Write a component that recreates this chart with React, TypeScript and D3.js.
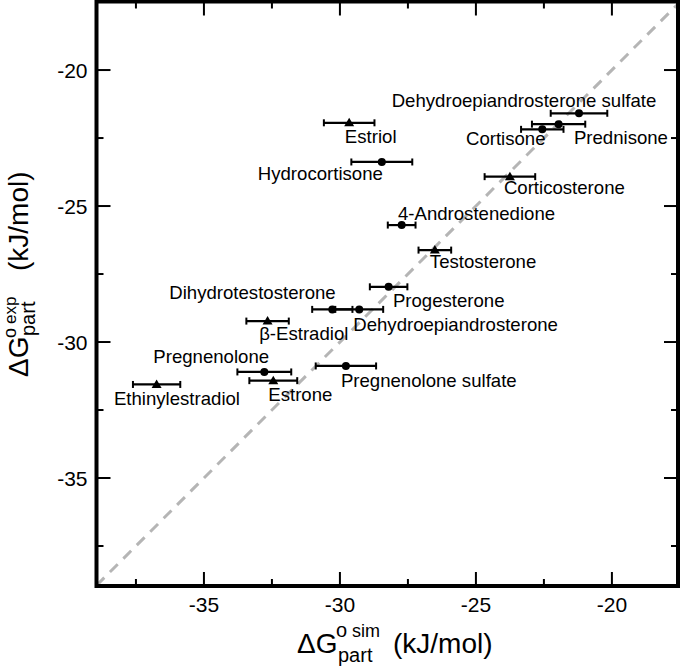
import React from 'react';
import * as d3 from 'd3';

// ---- data (kJ/mol) ----
const compounds = [
  'Dehydroepiandrosterone sulfate',
  'Prednisone',
  'Cortisone',
  'Estriol',
  'Hydrocortisone',
  'Corticosterone',
  '4-Androstenedione',
  'Testosterone',
  'Progesterone',
  'Dihydrotestosterone',
  'Dehydroepiandrosterone',
  'β-Estradiol',
  'Pregnenolone',
  'Pregnenolone sulfate',
  'Estrone',
  'Ethinylestradiol',
];
const simValues = [-21.21, -21.96, -22.56, -29.66, -28.46, -23.75, -27.73, -26.51, -28.21, -30.28, -29.29, -32.66, -32.78, -29.78, -32.45, -36.74];
const expValues = [-21.59, -21.99, -22.18, -21.94, -23.38, -23.92, -25.70, -26.62, -27.97, -28.80, -28.80, -29.23, -31.10, -30.88, -31.42, -31.56];
const simErrors = [1.04, 0.98, 0.78, 0.93, 1.12, 0.93, 0.51, 0.60, 0.69, 0.74, 0.88, 0.78, 0.99, 1.11, 0.88, 0.87];
const markerTypes = ['circle', 'circle', 'circle', 'triangle', 'circle', 'triangle', 'circle', 'triangle', 'circle', 'circle', 'circle', 'triangle', 'circle', 'circle', 'triangle', 'triangle'];

const majorTicks = [-35, -30, -25, -20];
const minorTicks = [-37.5, -32.5, -27.5, -22.5];
const tickLabels = ['-35', '-30', '-25', '-20'];

// label placement relative to the marker (px)
const labelOffsets: [number, number][] = [
  [-187.3, -6], [15.3, 20.3], [-76.3, 15.7], [-4.3, 20.6], [-124, 18], [-6, 17.3],
  [-3.7, -5], [-5, 18.3], [4.3, 20], [-163, -10], [-6, 21.4], [-8.4, 19],
  [-111, -8.7], [-5, 20.7], [-5, 20.3], [-42.7, 20.7],
];

const W = 682;
const H = 666;
const FONT = '"Liberation Sans", Arial, Helvetica, sans-serif';

export default function App() {
  const x = d3.scaleLinear().domain([-38.95, -17.57]).range([96.5, 678]);
  const y = d3.scaleLinear().domain([-38.97, -17.48]).range([586, 1.5]);
  const [x0, x1] = x.range();
  const [y0, y1] = y.range();
  const lo = Math.max(x.domain()[0], y.domain()[0]);
  const hi = Math.min(x.domain()[1], y.domain()[1]);

  const MAJ = 14;
  const MIN = 7;

  return (
    <svg width={W} height={H} style={{ position: 'absolute', left: 0, top: 0 }} fontFamily={FONT}>
      <rect width={W} height={H} fill="#fff" />
      {/* identity line */}
      <line x1={x(lo)} y1={y(lo)} x2={x(hi)} y2={y(hi)} stroke="#b5b5b5" strokeWidth={3} strokeDasharray="11 8" />

      {/* ticks */}
      {majorTicks.map((t, i) => (
        <g key={'mx' + i}>
          <line x1={x(t)} x2={x(t)} y1={y0} y2={y0 - MAJ} stroke="#000" strokeWidth={2} />
          <line x1={x(t)} x2={x(t)} y1={y1} y2={y1 + MAJ} stroke="#000" strokeWidth={2} />
          <line y1={y(t)} y2={y(t)} x1={x0} x2={x0 + MAJ} stroke="#000" strokeWidth={2} />
          <line y1={y(t)} y2={y(t)} x1={x1} x2={x1 - MAJ} stroke="#000" strokeWidth={2} />
          <text x={x(t)} y={612} fontSize={21} textAnchor="middle">{tickLabels[i]}</text>
          <text x={87.5} y={y(t) + 8} fontSize={21} textAnchor="end">{tickLabels[i]}</text>
        </g>
      ))}
      {minorTicks.map((t, i) => (
        <g key={'mn' + i}>
          <line x1={x(t)} x2={x(t)} y1={y0} y2={y0 - MIN} stroke="#000" strokeWidth={2} />
          <line x1={x(t)} x2={x(t)} y1={y1} y2={y1 + MIN} stroke="#000" strokeWidth={2} />
          <line y1={y(t)} y2={y(t)} x1={x0} x2={x0 + MIN} stroke="#000" strokeWidth={2} />
          <line y1={y(t)} y2={y(t)} x1={x1} x2={x1 - MIN} stroke="#000" strokeWidth={2} />
        </g>
      ))}

      {/* error bars + markers */}
      {compounds.map((c, i) => {
        const cx = x(simValues[i]);
        const cy = y(expValues[i]);
        const xl = x(simValues[i] - simErrors[i]);
        const xr = x(simValues[i] + simErrors[i]);
        return (
          <g key={c}>
            <line x1={xl} x2={xr} y1={cy} y2={cy} stroke="#000" strokeWidth={2.2} />
            <line x1={xl} x2={xl} y1={cy - 3.5} y2={cy + 3.5} stroke="#000" strokeWidth={2} />
            <line x1={xr} x2={xr} y1={cy - 3.5} y2={cy + 3.5} stroke="#000" strokeWidth={2} />
            {markerTypes[i] === 'circle' ? (
              <circle cx={cx} cy={cy} r={4} fill="#000" />
            ) : (
              <path d={`M${cx - 5},${cy + 3.5}L${cx + 5},${cy + 3.5}L${cx},${cy - 5}Z`} fill="#000" />
            )}
            <text x={cx + labelOffsets[i][0]} y={cy + labelOffsets[i][1]} fontSize={18.6}>{c}</text>
          </g>
        );
      })}

      {/* frame */}
      <rect x={x0} y={y1} width={x1 - x0} height={y0 - y1} fill="none" stroke="#000" strokeWidth={4} />

      {/* x title */}
      <g transform="translate(297,653)">
        <text x={0} y={0} fontSize={28}>ΔG</text>
        <text x={39} y={-16} fontSize={20}>o</text>
        <text x={55} y={-16} fontSize={18}>sim</text>
        <text x={41} y={9} fontSize={20}>part</text>
        <text x={96} y={0} fontSize={28}>(kJ/mol)</text>
      </g>
      {/* y title */}
      <g transform="translate(28,377) rotate(-90)">
        <text x={0} y={0} fontSize={28}>ΔG</text>
        <text x={39} y={-12} fontSize={18}>o</text>
        <text x={53} y={-12} fontSize={17}>exp</text>
        <text x={41} y={7} fontSize={20}>part</text>
        <text x={106} y={0} fontSize={28}>(kJ/mol)</text>
      </g>
    </svg>
  );
}
